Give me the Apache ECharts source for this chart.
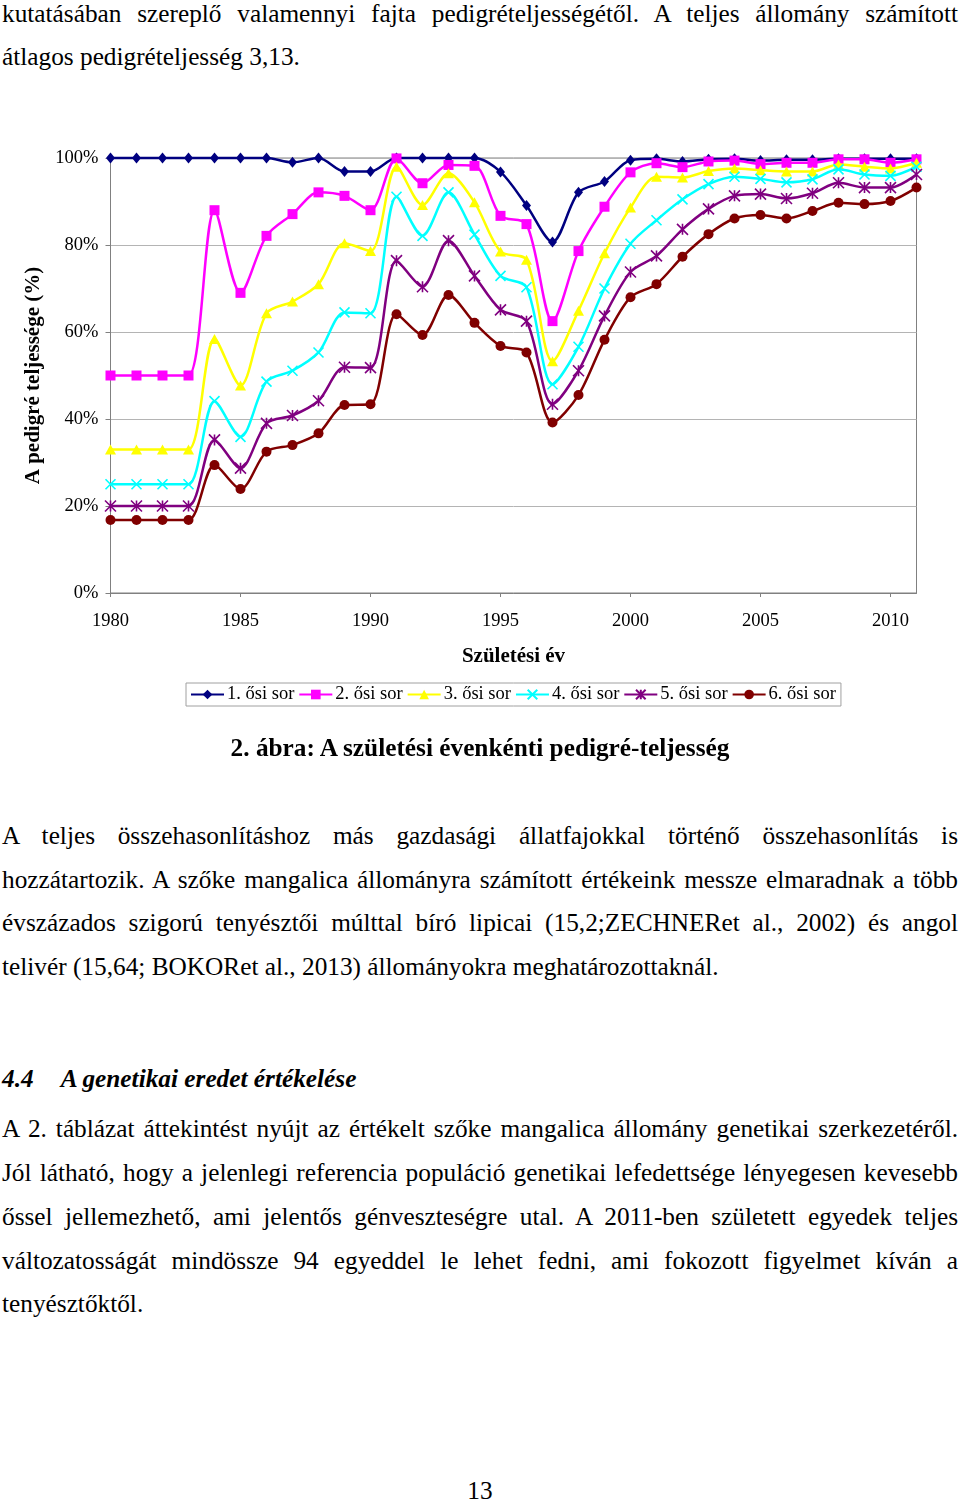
<!DOCTYPE html>
<html>
<head>
<meta charset="utf-8">
<script src="https://cdn.jsdelivr.net/npm/echarts@6/dist/echarts.min.js"></script>
<style>
  html, body { margin: 0; padding: 0; background: #fff; }
  body { width: 960px; height: 1499px; position: relative; overflow: hidden;
         font-family: 'Liberation Serif', 'Times New Roman', serif; color: #000; }
  #chart { position: absolute; left: 0; top: 100px; width: 960px; height: 640px; }
  .ln { position: absolute; left: 2px; width: 956px; font-size: 25.3px; line-height: 30px; white-space: nowrap; }
  .j { text-align: justify; text-align-last: justify; white-space: normal; }
  .c { text-align: center; left: 0; width: 960px; }
</style>
</head>
<body>
<div class="ln j" style="top:-2px">kutatásában szereplő valamennyi fajta pedigrételjességétől. A teljes állomány számított</div>
<div class="ln" style="top:41px">átlagos pedigrételjesség 3,13.</div>

<div id="chart"></div>

<div class="ln c" style="top:732px;font-weight:bold">2. ábra: A születési évenkénti pedigré-teljesség</div>

<div class="ln j" style="top:820px">A teljes összehasonlításhoz más gazdasági állatfajokkal történő összehasonlítás is</div>
<div class="ln j" style="top:864px">hozzátartozik. A szőke mangalica állományra számított értékeink messze elmaradnak a több</div>
<div class="ln j" style="top:907px">évszázados szigorú tenyésztői múlttal bíró lipicai (15,2;ZECHNERet al., 2002) és angol</div>
<div class="ln" style="top:951px">telivér (15,64; BOKORet al., 2013) állományokra meghatározottaknál.</div>

<div class="ln" style="top:1063px;font-weight:bold;font-style:italic">4.4<span style="display:inline-block;width:27px"></span>A genetikai eredet értékelése</div>

<div class="ln j" style="top:1113px">A 2. táblázat áttekintést nyújt az értékelt szőke mangalica állomány genetikai szerkezetéről.</div>
<div class="ln j" style="top:1157px">Jól látható, hogy a jelenlegi referencia populáció genetikai lefedettsége lényegesen kevesebb</div>
<div class="ln j" style="top:1201px">őssel jellemezhető, ami jelentős génveszteségre utal. A 2011-ben született egyedek teljes</div>
<div class="ln j" style="top:1245px">változatosságát mindössze 94 egyeddel le lehet fedni, ami fokozott figyelmet kíván a</div>
<div class="ln" style="top:1288px">tenyésztőktől.</div>

<div class="ln c" style="top:1475px">13</div>

<script>
// ---- data ----
const years = [1980,1981,1982,1983,1984,1985,1986,1987,1988,1989,1990,1991,1992,1993,1994,1995,
               1996,1997,1998,1999,2000,2001,2002,2003,2004,2005,2006,2007,2008,2009,2010,2011];
const seriesNames = ['1. ősi sor','2. ősi sor','3. ősi sor','4. ősi sor','5. ősi sor','6. ősi sor'];
const s1 = [100,100,100,100,100,100,100,99.0,100,96.9,96.9,100,100,100,100,96.8,89.1,80.7,92.1,94.6,99.5,99.8,99.2,99.7,99.8,99.4,99.6,99.6,99.8,99.8,99.8,99.8];
const s2 = [50,50,50,50,88.0,69.0,82.1,87.1,92.1,91.3,88.0,99.9,94.2,98.4,98.2,86.7,84.8,62.5,78.6,88.8,96.7,98.8,97.9,99.2,99.4,98.6,98.9,98.9,99.7,99.7,98.9,99.7];
const s3 = [33,33,33,33,58.4,47.7,64.3,67.0,71.0,80.4,78.6,98.0,89.2,96.5,89.8,78.5,76.6,53.3,64.9,78.1,88.6,95.7,95.5,97.0,97.6,97.2,96.9,96.9,98.5,98.0,97.6,98.9];
const s4 = [25,25,25,25,44.1,35.9,48.6,51.1,55.3,64.5,64.3,91.1,82.1,92.1,82.4,72.9,70.3,48.0,56.6,70.0,80.3,85.7,90.5,94.0,95.7,95.2,94.4,95.1,97.4,96.2,95.9,98.0];
const s5 = [20,20,20,20,35.2,28.7,39.0,40.8,44.2,51.9,51.8,76.4,70.4,81.0,72.9,65.1,62.5,43.4,51.1,63.7,73.8,77.5,83.6,88.3,91.3,91.7,90.7,91.9,94.3,93.2,93.2,96.2];
const s6 = [16.8,16.8,16.8,16.8,29.4,23.9,32.5,34.0,36.7,43.2,43.4,64.1,59.3,68.5,62.1,56.8,55.3,39.2,45.5,58.2,68.0,71.0,77.3,82.5,86.1,86.9,86.1,87.8,89.7,89.4,90.1,93.2];
const xTicks = [1980,1985,1990,1995,2000,2005,2010];
const yTicks = [0,20,40,60,80,100];
const xAxisTitle = 'Születési év';
const yAxisTitle = 'A pedigré teljessége (%)';

// ---- styles ----
const colors = ['#000080','#FF00FF','#FFFF00','#00FFFF','#800080','#800000'];
const symbols = ['diamond','rect','triangle',
  'path://M0,0L10,10M10,0L0,10',
  'path://M0,0L10,10M10,0L0,10M5,0L5,10',
  'circle'];
const symbolSizes = [[9,11],10,[11,10],10,11,10];
const FONT = "'Liberation Serif', 'Times New Roman', serif";

const allSeries = [s1,s2,s3,s4,s5,s6];
const chart = echarts.init(document.getElementById('chart'), null, {renderer: 'canvas'});
chart.setOption({
  animation: false,
  backgroundColor: 'transparent',
  textStyle: { fontFamily: FONT },
  grid: { left: 110.5, top: 58, width: 806, height: 435, show: true, borderColor: '#808080', borderWidth: 1, containLabel: false },
  legend: {
    left: 186, top: 583, data: seriesNames,
    itemWidth: 33, itemHeight: 12, itemGap: 4,
    padding: [2, 5, 2, 4],
    borderColor: '#a0a0a0', borderWidth: 1,
    textStyle: { fontFamily: FONT, fontSize: 18.5, color: '#000', padding: [0,0,0,-2] }
  },
  xAxis: {
    type: 'value', min: 1980, max: 2011,
    name: xAxisTitle, nameLocation: 'middle', nameGap: 53,
    nameTextStyle: { fontFamily: FONT, fontSize: 21, fontWeight: 'bold', color: '#000' },
    axisLine: { show: true, lineStyle: { color: '#808080', width: 1 } },
    axisTick: { show: true, length: 4, customValues: xTicks, lineStyle: { color: '#808080' } },
    axisLabel: { customValues: xTicks, formatter: v => String(v), fontFamily: FONT, fontSize: 18.5, color: '#000', margin: 19 },
    splitLine: { show: false }
  },
  yAxis: {
    type: 'value', min: 0, max: 100, interval: 20,
    name: yAxisTitle, nameLocation: 'middle', nameGap: 63, nameRotate: 90,
    nameTextStyle: { fontFamily: FONT, fontSize: 21, fontWeight: 'bold', color: '#000' },
    axisLine: { show: true, lineStyle: { color: '#808080', width: 1 } },
    axisTick: { show: true, length: 5, lineStyle: { color: '#808080' } },
    axisLabel: { formatter: '{value}%', fontFamily: FONT, fontSize: 18.5, color: '#000', margin: 12 },
    splitLine: { show: true, lineStyle: { color: '#b4b4b4', width: 1 } }
  },
  series: allSeries.map((vals, i) => ({
    name: seriesNames[i],
    type: 'line',
    data: years.map((y, k) => [y, vals[k]]),
    smooth: 0.3,
    clip: false,
    symbol: symbols[i],
    symbolSize: symbolSizes[i],
    showAllSymbol: true,
    lineStyle: { color: colors[i], width: 2.5 },
    itemStyle: { color: colors[i], borderColor: colors[i], borderWidth: (i === 3 || i === 4) ? 1.6 : 0 },
    emphasis: { disabled: true },
    z: 2 + i
  }))
});
</script>
</body>
</html>
